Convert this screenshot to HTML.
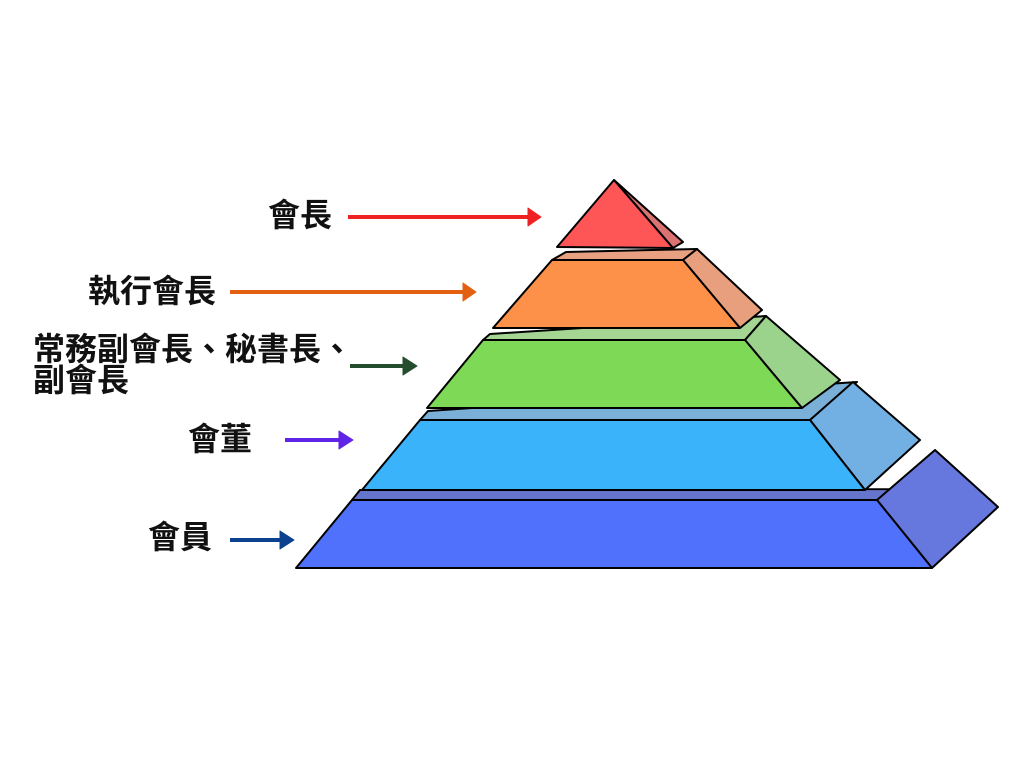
<!DOCTYPE html>
<html><head><meta charset="utf-8"><style>
html,body{margin:0;padding:0;background:#fff;}
.t{position:absolute;font-family:"Liberation Sans","Noto Sans CJK TC",sans-serif;font-weight:bold;font-size:32px;color:#111;line-height:31px;white-space:nowrap;}
</style></head><body>
<div style="position:relative;width:1024px;height:768px;overflow:hidden;">
<svg width="1024" height="768" style="position:absolute;left:0;top:0" stroke="#000" stroke-width="2" stroke-linejoin="round">
<polygon points="352,500 360,490 940,489 877,500" fill="#6675cc"/>
<polygon points="877,500 935,450 998,507 932,568" fill="#6677dd"/>
<polygon points="352,500 877,500 932,568 296,568" fill="#5071fb"/>
<polygon points="420,420 428,411 857,382 810,420" fill="#7ab0d8"/>
<polygon points="810,420 853,382 920,440 865,490" fill="#72b0e4"/>
<polygon points="420,420 810,420 865,490 362,490" fill="#3bb3fb"/>
<polygon points="483,340 490,334 766,316 745,340" fill="#a4d593"/>
<polygon points="745,340 766,316 840,380 802,408" fill="#9cd38c"/>
<polygon points="483,340 745,340 802,408 427,408" fill="#7ed957"/>
<polygon points="552,260 566,252 697,249 683,260" fill="#e8a082"/>
<polygon points="683,260 697,249 762,310 740,328" fill="#e89f7e"/>
<polygon points="552,260 683,260 740,328 493,328" fill="#fe914a"/>
<polygon points="614,180 683,242 673,248" fill="#dc7373"/>
<polygon points="614,180 673,248 557,247" fill="#fe5657"/>
<g stroke-width="4" fill="none">
<line x1="348" y1="217" x2="530" y2="217" stroke="#ee2222"/>
<line x1="230" y1="292" x2="466" y2="292" stroke="#e2600f"/>
<line x1="350" y1="366" x2="406" y2="366" stroke="#234d2c"/>
<line x1="285" y1="440" x2="342" y2="440" stroke="#6023e8"/>
<line x1="230" y1="540" x2="283" y2="540" stroke="#0c418f"/>
</g>
<g stroke-width="1">
<polygon points="528,208 541,217 528,226" fill="#ee2222" stroke="#ee2222"/>
<polygon points="463,283 476,292 463,301" fill="#e2600f" stroke="#e2600f"/>
<polygon points="403,357 417,366 403,375" fill="#234d2c" stroke="#234d2c"/>
<polygon points="339,431 353,440 339,449" fill="#6023e8" stroke="#6023e8"/>
<polygon points="280,531 294,540 280,549" fill="#0c418f" stroke="#0c418f"/>
</g>
</svg>
<div class="t" style="left:268px;top:200px">會長</div>
<div class="t" style="left:88px;top:276px">執行會長</div>
<div class="t" style="left:33px;top:334px">常務副會長、秘書長、<br>副會長</div>
<div class="t" style="left:188px;top:424px">會董</div>
<div class="t" style="left:148px;top:522px">會員</div>
</div>
</body></html>
